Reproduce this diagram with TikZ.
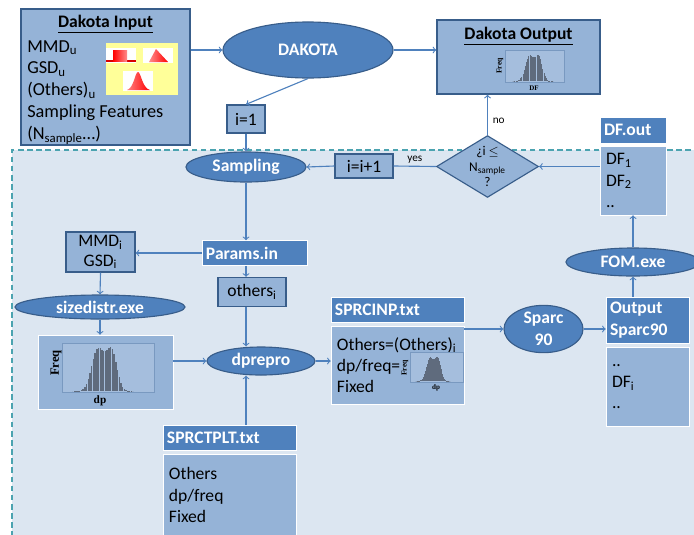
\documentclass[tikz,border=0pt]{standalone}
\usepackage{fontspec}
\setmainfont{Carlito}
\newfontfamily\plotfont{Liberation Serif}
\usetikzlibrary{
  shapes,
  shapes.geometric,
  calc,
  positioning,
  arrows
}

\definecolor{darkfill}{HTML}{4F81BD}
\definecolor{bdr}{HTML}{385D8A}
\definecolor{midfill}{HTML}{95B3D7}
\definecolor{paleback}{HTML}{DCE6F1}
\definecolor{dashcol}{HTML}{4BA3B0}
\definecolor{barcol}{HTML}{5F6B7D}
\definecolor{yel}{HTML}{FFFF99}

% bars of a histogram: left, bottom, width, height (in px)
\newcommand{\histplot}[4]{%
  \foreach \k in {0,...,35}{
    \pgfmathsetmacro\bx{(\k+0.5)/36}
    \pgfmathsetmacro\bh{#4*(0.95*exp(-((\bx-0.42)/0.14)*((\bx-0.42)/0.14))+0.9*exp(-((\bx-0.64)/0.12)*((\bx-0.64)/0.12)))}
    \fill[barcol] ({#1+\k*#3/36},#2) rectangle ({#1+(\k+0.85)*#3/36},{#2-\bh});
  }}

\begin{document}
\begin{tikzpicture}[x=0.025cm, y=-0.025cm, font=\fontsize{12.5}{15}\selectfont,
    box/.style={draw=bdr, fill=midfill, line width=1pt},
    tag/.style={draw=bdr, fill=midfill, line width=0.9pt, inner sep=1pt, align=center},
    hdr/.style={draw=white, fill=darkfill, text=white, font=\fontsize{12.5}{15.5}\selectfont\bfseries,
      align=left, inner xsep=0.1cm, inner ysep=0pt},
    body/.style={draw=white, fill=midfill, align=left, inner xsep=0.15cm, inner ysep=0pt},
    oval/.style={ellipse, draw=bdr, thick, fill=darkfill, text=white,
      font=\fontsize{12.5}{15.5}\selectfont\bfseries, inner sep=0pt, align=center},
    frame/.style={draw=bdr!30!midfill, fill=midfill!85!white, line width=0.4pt},
    plotlbl/.style={font=\plotfont\bfseries\fontsize{#1}{#1}\selectfont, inner sep=0pt},
    link/.style={->, draw=darkfill, thick}]

    \clip (0,0) rectangle (694,534);

    % loop region
    \fill[paleback] (12,150) rectangle (700,540);
    \draw[dashcol, line width=1.4pt, dash pattern=on 4pt off 2.5pt] (700,150) -- (12,150) -- (12,540);

    % Dakota input
    \node[box, minimum width=4.225cm, minimum height=3.4cm] (in) at (105.5,77) {};
    \node[font=\fontsize{12.5}{15}\selectfont\bfseries] (intitle) at (105.5,24) {\underline{Dakota Input}};
    \node[anchor=north west, align=left, inner sep=0pt, font=\fontsize{13}{15.5}\selectfont] (inlist) at (27,40)
      {MMD\textsubscript{u}\\GSD\textsubscript{u}\\(Others)\textsubscript{u}\\Sampling Features\\(N\textsubscript{sample}\dots)};
    \node[fill=yel, minimum width=1.8cm, minimum height=1.3cm, inner sep=0pt] (distpics) at (142,69) {};
    \fill[white] (106,48) rectangle (136,63);
    \fill[red!85!black] (106,60) rectangle (136,62);
    \shade[left color=red, right color=red!45] (113,50) rectangle (127,61);
    \fill[white] (143,48) rectangle (173,63);
    \shade[left color=red!45, right color=red] (149,62) -- (156,49) -- (168,62) -- cycle;
    \fill[white] (123,71) rectangle (153,91);
    \shade[left color=red!50, right color=red] (127,90) .. controls (134,88) and (135,72) .. (138,72)
      .. controls (141,72) and (142,88) .. (150,90) -- cycle;

    \node[oval, minimum width=4.25cm, minimum height=1.4cm] (dak) at (308,50) {DAKOTA};

    % Dakota output
    \node[box, minimum width=4.075cm, minimum height=1.85cm] (out) at (518.5,57) {};
    \node[font=\fontsize{12.5}{15}\selectfont\bfseries] (outtitle) at (518.5,36) {\underline{Dakota Output}};
    \draw[frame] (505,50) rectangle (564,82);
    \histplot{512}{81}{42}{26}
    \node[plotlbl=5.5, rotate=90] (outfreq) at (500,66) {Freq};
    \node[plotlbl=5] (outdf) at (534,88) {DF};

    \node[tag, minimum width=0.95cm, minimum height=0.7cm] (i1) at (246,119) {i=1};
    \node[oval, minimum width=3cm, minimum height=0.75cm] (samp) at (246,167) {Sampling};
    \node[tag, minimum width=1.45cm, minimum height=0.6cm] (inc) at (364,166) {i=i+1};
    \node[diamond, draw=bdr, thick, fill=midfill, shape aspect=1.65, minimum width=2.525cm,
      minimum height=1.525cm, inner sep=0pt, align=center, font=\fontsize{9.5}{10.8}\selectfont]
      (chk) at (487.5,166.5) {¿i $\leq$\\N\textsubscript{sample}\\?};

    % DF.out and FOM
    \node[hdr, text width=1.45cm, minimum height=0.65cm] (dfhd) at (633,130) {DF.out};
    \node[body, text width=1.35cm, minimum height=1.725cm] (dfbody) at (633,180.5)
      {DF\textsubscript{1}\\DF\textsubscript{2}\\..};
    \node[oval, minimum width=3.35cm, minimum height=0.7cm] (fom) at (633,262) {FOM.exe};
    \node[hdr, text width=1.875cm, minimum height=1.15cm] (sphd) at (647.5,320) {Output\\Sparc90};
    \node[body, text width=1.775cm, minimum height=1.975cm] (spbody) at (647.5,386.5)
      {..\\DF\textsubscript{i}\\..};
    \node[oval, minimum width=1.975cm, minimum height=1.15cm] (sparc) at (543.5,329) {Sparc\\90};

    % input file
    \node[hdr, text width=3.125cm, minimum height=0.625cm] (inphd) at (397.5,309.5) {SPRCINP.txt};
    \node[body, text width=3.025cm, minimum height=1.95cm] (inpbody) at (397.5,365)
      {Others=(Others)\textsubscript{i}\\dp/freq=\\Fixed};
    \draw[frame] (410,352) rectangle (463,382);
    \histplot{415}{381}{36}{24}
    \node[plotlbl=5.5, rotate=90] (inpfreq) at (405,368) {Freq};
    \node[plotlbl=5] (inpdp) at (436,388) {dp};

    % template
    \node[hdr, text width=3.125cm, minimum height=0.625cm] (tplhd) at (229.5,437.5) {SPRCTPLT.txt};
    \node[body, text width=3.025cm, minimum height=2.05cm] (tplbody) at (229.5,495)
      {Others\\dp/freq\\Fixed};

    \node[hdr, text width=2.425cm, minimum height=0.625cm] (par) at (254.5,253) {Params.in};
    \node[tag, minimum width=1.7cm, minimum height=0.725cm] (oth) at (252,292) {others\textsubscript{i}};
    \node[tag, minimum width=1.725cm, minimum height=1cm, font=\fontsize{12.5}{14}\selectfont] (mmd) at (100.5,252)
      {MMD\textsubscript{i}\\GSD\textsubscript{i}};
    \node[oval, minimum width=4.25cm, minimum height=0.6cm] (szd) at (100,307) {sizedistr.exe};

    % size distribution
    \node[body, minimum width=3.375cm, minimum height=1.85cm] (dist) at (105.5,372) {};
    \draw[frame] (62,343) rectangle (154,392);
    \histplot{72}{391}{62}{44}
    \node[plotlbl=9, rotate=90] (distfreq) at (56,363) {Freq};
    \node[plotlbl=8] (distdp) at (100,401) {dp};

    \node[oval, minimum width=2.7cm, minimum height=0.7cm] (dpp) at (261,361) {dprepro};

    % connectors
    \draw[link] (in.east |- dak.west) -- (dak.west);
    \draw[link] (dak.east) -- (dak.east -| out.west);
    \draw[link] (dak.south) -- (i1.north);
    \draw[link] (i1.south) -- (samp.north);
    \draw[link] (inc.west) -- (samp.east);
    \draw[darkfill, thick] (chk.west) -- node[above, text=black, font=\fontsize{8}{9}\selectfont, inner sep=1.5pt] (yes) {yes} (inc.east);
    \draw[link] (chk.north) -- node[right, pos=0.35, text=black, font=\fontsize{8}{9}\selectfont] (no) {no} (chk.north |- out.south);
    \draw[link] (dfbody.west |- chk.east) -- (chk.east);
    \draw[link] (fom.north) -- (dfbody.south);
    \draw[link] (fom.south |- sphd.north) -- (fom.south);
    \draw[link] (sparc.east) -- (sparc.east -| sphd.west);
    \draw[link] (inpbody.east |- sparc.west) -- (sparc.west);
    \draw[link] (dpp.east) -- (dpp.east -| inpbody.west);
    \draw[link] (dist.east |- dpp.west) -- (dpp.west);
    \draw[link] (samp.south) -- (samp.south |- par.north);
    \draw[link] (samp.south |- par.south) -- (samp.south |- oth.north);
    \draw[link] (samp.south |- oth.south) -- (samp.south |- dpp.north);
    \draw[link] (samp.south |- tplhd.north) -- (samp.south |- dpp.south);
    \draw[link] (par.west) -- (par.west -| mmd.east);
    \draw[link] (mmd.south) -- (szd.north);
    \draw[link] (szd.south) -- (szd.south |- dist.north);
  \end{tikzpicture}
\end{document}
